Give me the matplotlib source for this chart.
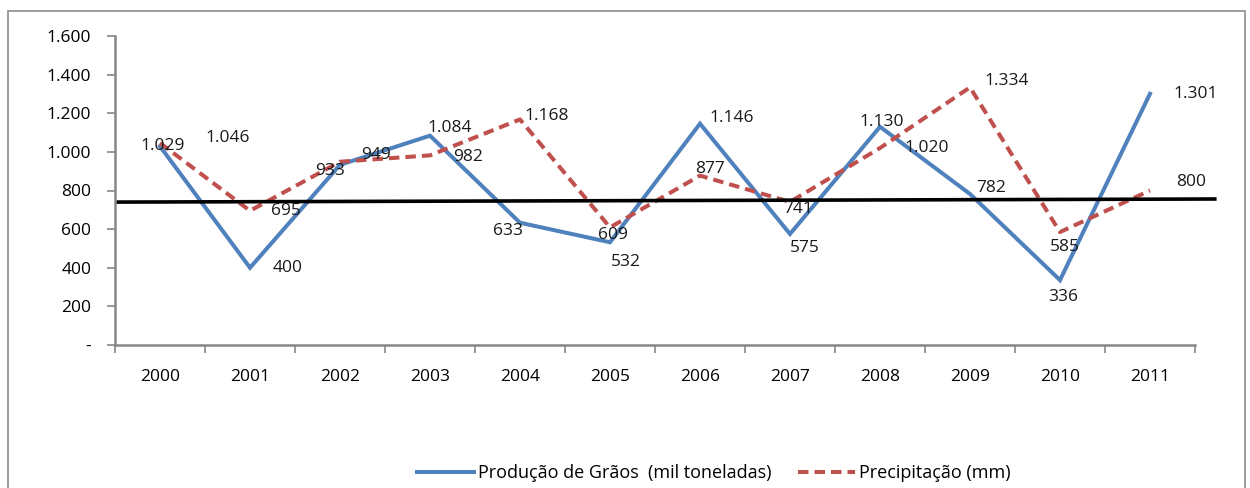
import matplotlib
matplotlib.use("Agg")
import matplotlib.pyplot as plt
from matplotlib.patches import Rectangle

years = ["2000", "2001", "2002", "2003", "2004", "2005", "2006", "2007", "2008", "2009", "2010", "2011"]
producao = [1029, 400, 933, 1084, 633, 532, 1146, 575, 1130, 782, 336, 1301]
precipitacao = [1046, 695, 949, 982, 1168, 609, 877, 741, 1020, 1334, 585, 800]
ref_line_x = [-0.47, 11.72]
ref_line_y = [740, 756]
yticks = [0, 200, 400, 600, 800, 1000, 1200, 1400, 1600]
ytick_labels = ["-", "200", "400", "600", "800", "1.000", "1.200", "1.400", "1.600"]

# label offsets in pixels (dx right, dy up)
prod_off = [(3, 0), (38, 0), (-10, -6), (20, 8), (-12, -8), (16, -20), (32, 6), (15, -14), (2, 5), (21, 6), (3, -17), (46, 0)]
prec_off = [(68, 5), (36, 0), (36, 7), (38, -2), (27, 3), (3, -8), (10, 7), (8, -7), (47, 0), (37, 6), (5, -15), (41, 9)]

FONT = "Open Sans"
plt.rcParams["font.family"] = [FONT, "DejaVu Sans"]
FS = 12.5

fig = plt.figure(figsize=(12.5, 4.88), dpi=100)
ax = fig.add_axes([115 / 1250, 1 - 345 / 488, 1080 / 1250, 309 / 488])

blue = "#4F81BD"
red = "#C0504D"
x = list(range(len(years)))
l1, = ax.plot(x, producao, color=blue, lw=2.9, solid_joinstyle="miter", label="Produção de Grãos  (mil toneladas)")
l2, = ax.plot(x, precipitacao, color=red, lw=2.9, dashes=(2.6, 1.5), label="Precipitação (mm)")
ax.plot(ref_line_x, ref_line_y, color="black", lw=2.6, clip_on=False)

def fmt(v):
    return f"{v:,}".replace(",", ".")

for xi, v, (dx, dy) in zip(x, producao, prod_off):
    ax.annotate(fmt(v), (xi, v), xytext=(dx, dy), textcoords="offset pixels",
                ha="center", va="center", fontsize=FS, color="#1a1a1a")
for xi, v, (dx, dy) in zip(x, precipitacao, prec_off):
    ax.annotate(fmt(v), (xi, v), xytext=(dx, dy), textcoords="offset pixels",
                ha="center", va="center", fontsize=FS, color="#1a1a1a")

ax.set_xlim(-0.5, 11.5)
ax.set_ylim(0, 1600)
ax.set_yticks(yticks)
ax.set_yticklabels(ytick_labels)
ax.set_xticks(x)
ax.set_xticklabels(years)
ax.set_xticks([i - 0.5 for i in range(13)], minor=True)
ax.tick_params(axis="x", which="major", length=0, pad=17, labelsize=FS)
ax.tick_params(axis="x", which="minor", length=6, color="#868686", width=1.2, direction="out")
ax.tick_params(axis="y", length=6, color="#868686", width=1.2, pad=11, labelsize=FS)
for s in ["top", "right"]:
    ax.spines[s].set_visible(False)
for s in ["left", "bottom"]:
    ax.spines[s].set_color("#868686")
    ax.spines[s].set_linewidth(1.8)

fig.legend(handles=[l1, l2], loc="center", bbox_to_anchor=(0.571, 1 - 473 / 488),
           ncol=2, frameon=False, fontsize=FS + 0.5, handlelength=3.15, columnspacing=1.45,
           handletextpad=0.25)

fig.patches.append(Rectangle((8 / 1250, -0.05), 1237 / 1250, 1.05 - 11 / 488,
                             transform=fig.transFigure, fill=False, edgecolor="#8c8c8c", lw=1.2))

fig.savefig("out.png", dpi=100, facecolor="white")
